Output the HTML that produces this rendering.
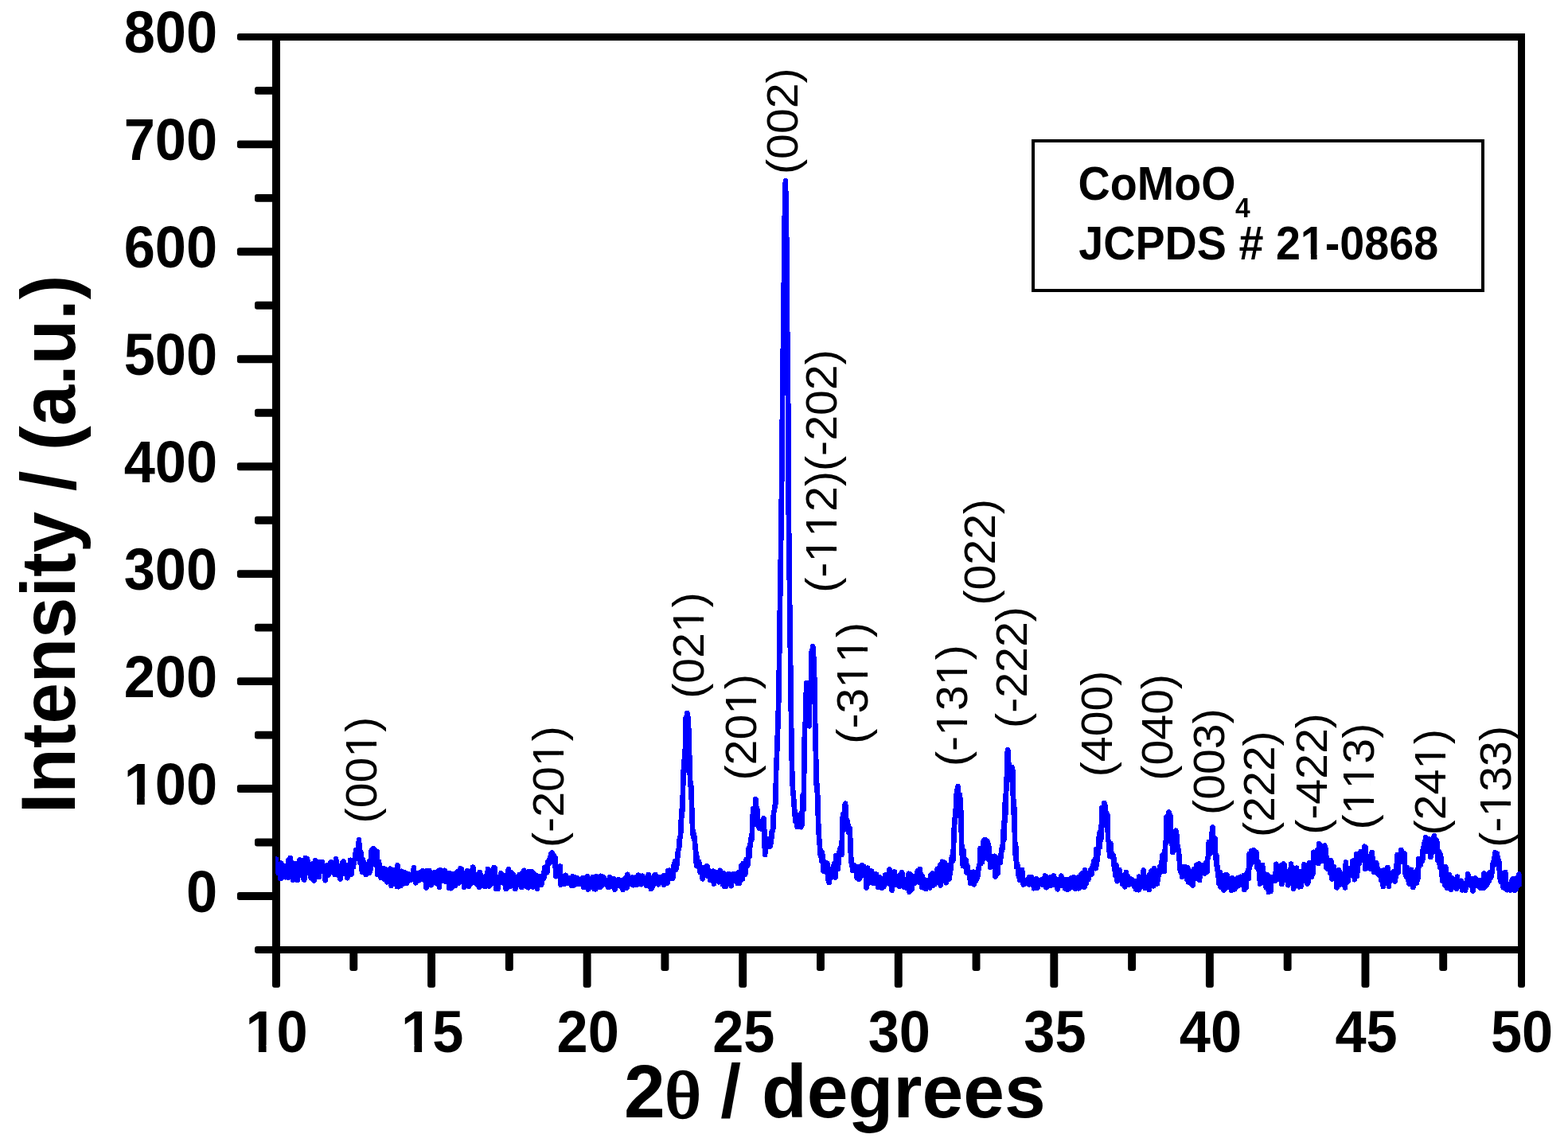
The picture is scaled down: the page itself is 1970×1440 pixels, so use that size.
<!DOCTYPE html>
<html lang="en"><head><meta charset="utf-8"><title>XRD pattern of CoMoO4</title>
<style>
html,body{margin:0;padding:0;background:#fff;overflow:hidden;}
body{width:1970px;height:1440px;overflow:hidden;}
svg{display:block;}
text{font-family:"Liberation Sans",Arial,Helvetica,sans-serif;fill:#000;font-kerning:none;font-feature-settings:"kern" 0,"liga" 0;white-space:pre;}
.tick{font-size:70.4px;font-weight:bold;}
.xt{font-size:93px;font-weight:bold;}
.yt{font-size:92.3px;font-weight:bold;}
.th{font-family:"Liberation Serif","DejaVu Serif",serif;font-size:82.5px;font-weight:normal;stroke:#000;stroke-width:2.4px;stroke-linejoin:round;}
.pk{font-size:56px;}
.leg{font-size:55.7px;font-weight:bold;}
.sub{font-size:33.5px;font-weight:bold;}
.ax{stroke:#000;fill:none;}
</style></head><body>
<svg width="1970" height="1440" viewBox="0 0 1970 1440">
<rect x="0" y="0" width="1970" height="1440" fill="#fff"/>
<g>
<g transform="translate(472.50 967.60) rotate(-90) scale(1.0230 1.0000)"><text class="pk" text-anchor="middle">(001)</text><g fill="#fff"><rect x="18.20" y="-5.28" width="11.46" height="6.92"/><rect x="34.60" y="-5.28" width="11.02" height="6.92"/></g></g>
<g transform="translate(707.70 988.60) rotate(-90) scale(1.0230 1.0000)"><text class="pk" text-anchor="middle">(-201)</text><g fill="#fff"><rect x="27.52" y="-5.28" width="11.46" height="6.92"/><rect x="43.93" y="-5.28" width="11.02" height="6.92"/></g></g>
<g transform="translate(883.70 811.00) rotate(-90) scale(1.0230 1.0000)"><text class="pk" text-anchor="middle">(021)</text><g fill="#fff"><rect x="18.20" y="-5.28" width="11.46" height="6.92"/><rect x="34.60" y="-5.28" width="11.02" height="6.92"/></g></g>
<g transform="translate(950.10 913.70) rotate(-90) scale(1.0230 1.0000)"><text class="pk" text-anchor="middle">(201)</text><g fill="#fff"><rect x="18.20" y="-5.28" width="11.46" height="6.92"/><rect x="34.60" y="-5.28" width="11.02" height="6.92"/></g></g>
<text class="pk" text-anchor="middle" transform="translate(1002.30 152.20) rotate(-90) scale(1.0230 1.0000)">(002)</text>
<g transform="translate(1051.30 592.00) rotate(-90) scale(1.0230 1.0000)"><text class="pk" text-anchor="middle">(-112)(-202)</text><g fill="#fff"><rect x="-109.46" y="-5.28" width="11.46" height="6.92"/><rect x="-93.05" y="-5.28" width="11.02" height="6.92"/><rect x="-78.31" y="-5.28" width="11.46" height="6.92"/><rect x="-61.91" y="-5.28" width="11.02" height="6.92"/></g></g>
<g transform="translate(1089.60 858.30) rotate(-90) scale(1.0230 1.0000)"><text class="pk" text-anchor="middle">(-311)</text><g fill="#fff"><rect x="-3.62" y="-5.28" width="11.46" height="6.92"/><rect x="12.78" y="-5.28" width="11.02" height="6.92"/><rect x="27.52" y="-5.28" width="11.46" height="6.92"/><rect x="43.93" y="-5.28" width="11.02" height="6.92"/></g></g>
<g transform="translate(1215.20 886.60) rotate(-90) scale(1.0230 1.0000)"><text class="pk" text-anchor="middle">(-131)</text><g fill="#fff"><rect x="-34.77" y="-5.28" width="11.46" height="6.92"/><rect x="-18.36" y="-5.28" width="11.02" height="6.92"/><rect x="27.52" y="-5.28" width="11.46" height="6.92"/><rect x="43.93" y="-5.28" width="11.02" height="6.92"/></g></g>
<text class="pk" text-anchor="middle" transform="translate(1249.60 693.75) rotate(-90) scale(1.0230 1.0000)">(022)</text>
<text class="pk" text-anchor="middle" transform="translate(1290.20 838.55) rotate(-90) scale(1.0230 1.0000)">(-222)</text>
<text class="pk" text-anchor="middle" transform="translate(1397.30 909.40) rotate(-90) scale(1.0230 1.0000)">(400)</text>
<text class="pk" text-anchor="middle" transform="translate(1473.30 913.80) rotate(-90) scale(1.0230 1.0000)">(040)</text>
<text class="pk" text-anchor="middle" transform="translate(1537.50 957.10) rotate(-90) scale(1.0230 1.0000)">(003)</text>
<text class="pk" text-anchor="middle" transform="translate(1601.10 985.15) rotate(-90) scale(1.0230 1.0000)">(222)</text>
<text class="pk" text-anchor="middle" transform="translate(1667.10 972.50) rotate(-90) scale(1.0230 1.0000)">(-422)</text>
<g transform="translate(1726.40 975.60) rotate(-90) scale(1.0230 1.0000)"><text class="pk" text-anchor="middle">(113)</text><g fill="#fff"><rect x="-44.09" y="-5.28" width="11.46" height="6.92"/><rect x="-27.69" y="-5.28" width="11.02" height="6.92"/><rect x="-12.95" y="-5.28" width="11.46" height="6.92"/><rect x="3.46" y="-5.28" width="11.02" height="6.92"/></g></g>
<g transform="translate(1815.50 982.70) rotate(-90) scale(1.0230 1.0000)"><text class="pk" text-anchor="middle">(241)</text><g fill="#fff"><rect x="18.20" y="-5.28" width="11.46" height="6.92"/><rect x="34.60" y="-5.28" width="11.02" height="6.92"/></g></g>
<g transform="translate(1898.30 988.35) rotate(-90) scale(1.0230 1.0000)"><text class="pk" text-anchor="middle">(-133)</text><g fill="#fff"><rect x="-34.77" y="-5.28" width="11.46" height="6.92"/><rect x="-18.36" y="-5.28" width="11.02" height="6.92"/></g></g>
</g>
<rect x="1297.8" y="176.6" width="565" height="188.5" fill="none" stroke="#000" stroke-width="4" shape-rendering="crispEdges"/>
<text class="leg" text-anchor="start" transform="translate(1354.60 250.80) scale(1.0000 1.0610)">CoMoO<tspan class="sub" x="197.4" dy="20.83">4</tspan></text>
<g transform="translate(1355.30 326.10) scale(1.0000 1.0610)"><text class="leg" text-anchor="start">JCPDS # 21-0868</text><g fill="#fff"><rect x="280.51" y="-6.77" width="11.12" height="8.40"/><rect x="299.28" y="-6.77" width="10.42" height="8.40"/></g></g>
<g fill="#000" stroke="none">
<rect x="297.90" y="1121.07" width="52.10" height="9.90" rx="3"/>
<rect x="297.90" y="986.12" width="52.10" height="9.90" rx="3"/>
<rect x="297.90" y="851.17" width="52.10" height="9.90" rx="3"/>
<rect x="297.90" y="716.21" width="52.10" height="9.90" rx="3"/>
<rect x="297.90" y="581.26" width="52.10" height="9.90" rx="3"/>
<rect x="297.90" y="446.31" width="52.10" height="9.90" rx="3"/>
<rect x="297.90" y="311.36" width="52.10" height="9.90" rx="3"/>
<rect x="297.90" y="176.40" width="52.10" height="9.90" rx="3"/>
<rect x="297.90" y="42.00" width="52.10" height="8.85" rx="3"/>
<rect x="320.00" y="1053.60" width="30.00" height="9.90" rx="3"/>
<rect x="320.00" y="918.64" width="30.00" height="9.90" rx="3"/>
<rect x="320.00" y="783.69" width="30.00" height="9.90" rx="3"/>
<rect x="320.00" y="648.74" width="30.00" height="9.90" rx="3"/>
<rect x="320.00" y="513.79" width="30.00" height="9.90" rx="3"/>
<rect x="320.00" y="378.83" width="30.00" height="9.90" rx="3"/>
<rect x="320.00" y="243.88" width="30.00" height="9.90" rx="3"/>
<rect x="320.00" y="108.93" width="30.00" height="9.90" rx="3"/>
<rect x="320.00" y="1189.05" width="30.00" height="8.85" rx="3"/>
<rect x="537.11" y="1192.00" width="9.90" height="49.00" rx="3"/>
<rect x="732.67" y="1192.00" width="9.90" height="49.00" rx="3"/>
<rect x="928.24" y="1192.00" width="9.90" height="49.00" rx="3"/>
<rect x="1123.80" y="1192.00" width="9.90" height="49.00" rx="3"/>
<rect x="1319.36" y="1192.00" width="9.90" height="49.00" rx="3"/>
<rect x="1514.92" y="1192.00" width="9.90" height="49.00" rx="3"/>
<rect x="1710.49" y="1192.00" width="9.90" height="49.00" rx="3"/>
<rect x="342.00" y="1192.00" width="10.00" height="49.00" rx="3"/>
<rect x="1907.00" y="1192.00" width="9.00" height="49.00" rx="3"/>
<rect x="439.33" y="1192.00" width="9.90" height="28.00" rx="3"/>
<rect x="634.89" y="1192.00" width="9.90" height="28.00" rx="3"/>
<rect x="830.46" y="1192.00" width="9.90" height="28.00" rx="3"/>
<rect x="1026.02" y="1192.00" width="9.90" height="28.00" rx="3"/>
<rect x="1221.58" y="1192.00" width="9.90" height="28.00" rx="3"/>
<rect x="1417.14" y="1192.00" width="9.90" height="28.00" rx="3"/>
<rect x="1612.71" y="1192.00" width="9.90" height="28.00" rx="3"/>
<rect x="1808.27" y="1192.00" width="9.90" height="28.00" rx="3"/>
</g>
<g fill="#000" stroke="none" shape-rendering="crispEdges">
<rect x="342.00" y="42.00" width="1574.00" height="8.85"/>
<rect x="342.00" y="1189.05" width="1574.00" height="8.85"/>
<rect x="342.00" y="42.00" width="10.00" height="1158.00"/>
<rect x="1907.00" y="42.00" width="9.00" height="1158.00"/>
</g>
<g>
<text class="tick" text-anchor="end" transform="translate(273.10 1145.52) scale(1.0000 1.0647)">0</text>
<g transform="translate(273.10 1010.57) scale(1.0000 1.0647)"><text class="tick" text-anchor="end">100</text><g fill="#fff"><rect x="-115.09" y="-8.56" width="14.06" height="10.62"/><rect x="-91.37" y="-8.56" width="13.17" height="10.62"/></g></g>
<text class="tick" text-anchor="end" transform="translate(273.10 875.62) scale(1.0000 1.0647)">200</text>
<text class="tick" text-anchor="end" transform="translate(273.10 740.66) scale(1.0000 1.0647)">300</text>
<text class="tick" text-anchor="end" transform="translate(273.10 605.71) scale(1.0000 1.0647)">400</text>
<text class="tick" text-anchor="end" transform="translate(273.10 470.76) scale(1.0000 1.0647)">500</text>
<text class="tick" text-anchor="end" transform="translate(273.10 335.81) scale(1.0000 1.0647)">600</text>
<text class="tick" text-anchor="end" transform="translate(273.10 200.85) scale(1.0000 1.0647)">700</text>
<text class="tick" text-anchor="end" transform="translate(273.10 65.90) scale(1.0000 1.0647)">800</text>
<g transform="translate(347.60 1322.20) scale(1.0000 1.0647)"><text class="tick" text-anchor="middle">10</text><g fill="#fff"><rect x="-36.78" y="-8.56" width="14.06" height="10.62"/><rect x="-13.06" y="-8.56" width="13.17" height="10.62"/></g></g>
<g transform="translate(543.16 1322.20) scale(1.0000 1.0647)"><text class="tick" text-anchor="middle">15</text><g fill="#fff"><rect x="-36.78" y="-8.56" width="14.06" height="10.62"/><rect x="-13.06" y="-8.56" width="13.17" height="10.62"/></g></g>
<text class="tick" text-anchor="middle" transform="translate(738.73 1322.20) scale(1.0000 1.0647)">20</text>
<text class="tick" text-anchor="middle" transform="translate(934.29 1322.20) scale(1.0000 1.0647)">25</text>
<text class="tick" text-anchor="middle" transform="translate(1129.85 1322.20) scale(1.0000 1.0647)">30</text>
<text class="tick" text-anchor="middle" transform="translate(1325.41 1322.20) scale(1.0000 1.0647)">35</text>
<text class="tick" text-anchor="middle" transform="translate(1520.97 1322.20) scale(1.0000 1.0647)">40</text>
<text class="tick" text-anchor="middle" transform="translate(1716.54 1322.20) scale(1.0000 1.0647)">45</text>
<text class="tick" text-anchor="middle" transform="translate(1912.10 1322.20) scale(1.0000 1.0647)">50</text>
</g>
<text class="xt" text-anchor="start" transform="translate(783.90 1403.90) scale(1.0000 1.0120)">2<tspan class="th" x="51.3" textLength="45.33" lengthAdjust="spacingAndGlyphs">θ</tspan><tspan x="95.6"> / degrees</tspan></text>
<text class="yt" text-anchor="start" transform="translate(94.10 1022.30) rotate(-90) scale(1.0000 1.0350)">Intensity / (a.u.)</text>
<clipPath id="plotclip"><rect x="346.1" y="0" width="1565.6" height="1440"/></clipPath>
<polyline clip-path="url(#plotclip)" fill="none" stroke="#0000ff" stroke-width="6.7" stroke-linejoin="round" stroke-linecap="round" shape-rendering="crispEdges" points="347.0,1079.7 347.8,1094.9 348.6,1091.4 349.3,1088.8 350.1,1097.2 350.9,1091.7 351.7,1091.8 352.5,1104.1 353.3,1084.7 354.0,1087.6 354.8,1096.3 355.6,1093.1 356.4,1088.4 357.2,1093.8 358.0,1093.7 358.7,1102.2 359.5,1088.1 360.3,1091.2 361.1,1090.2 361.9,1102.8 362.6,1080.6 363.4,1091.1 364.2,1094.9 365.0,1078.0 365.8,1092.6 366.6,1102.5 367.3,1095.1 368.1,1105.7 368.9,1085.0 369.7,1095.3 370.5,1097.6 371.2,1084.9 372.0,1104.1 372.8,1088.7 373.6,1105.9 374.4,1097.2 375.2,1101.0 375.9,1082.3 376.7,1080.2 377.5,1095.0 378.3,1086.8 379.1,1094.0 379.9,1088.7 380.6,1098.0 381.4,1104.8 382.2,1105.5 383.0,1090.2 383.8,1078.1 384.5,1091.0 385.3,1096.6 386.1,1079.5 386.9,1091.3 387.7,1092.3 388.5,1091.3 389.2,1094.0 390.0,1095.3 390.8,1103.2 391.6,1089.6 392.4,1093.8 393.2,1084.8 393.9,1095.8 394.7,1106.6 395.5,1094.0 396.3,1081.4 397.1,1096.0 397.8,1099.6 398.6,1101.8 399.4,1100.8 400.2,1095.5 401.0,1101.7 401.8,1083.0 402.5,1095.5 403.3,1092.8 404.1,1083.5 404.9,1083.0 405.7,1095.1 406.5,1091.3 407.2,1088.5 408.0,1095.0 408.8,1106.2 409.6,1089.1 410.4,1087.5 411.1,1090.9 411.9,1100.3 412.7,1095.2 413.5,1098.0 414.3,1096.0 415.1,1084.8 415.8,1083.2 416.6,1089.3 417.4,1090.1 418.2,1089.3 419.0,1094.1 419.7,1094.6 420.5,1098.8 421.3,1094.5 422.1,1079.4 422.9,1088.0 423.7,1096.5 424.4,1097.5 425.2,1100.3 426.0,1091.6 426.8,1091.5 427.6,1104.5 428.4,1091.0 429.1,1098.5 429.9,1084.4 430.7,1093.4 431.5,1082.5 432.3,1097.8 433.0,1096.6 433.8,1092.5 434.6,1087.1 435.4,1090.5 436.2,1103.2 437.0,1093.1 437.7,1094.1 438.5,1097.1 439.3,1098.4 440.1,1080.8 440.9,1095.8 441.7,1098.5 442.4,1086.7 443.2,1089.2 444.0,1089.2 444.8,1080.5 445.6,1080.0 446.3,1077.6 447.1,1068.3 447.9,1069.5 448.7,1073.1 449.5,1067.1 450.3,1066.5 451.0,1055.2 451.8,1073.8 452.6,1084.2 453.4,1071.0 454.2,1087.7 455.0,1095.9 455.7,1080.3 456.5,1091.4 457.3,1083.7 458.1,1092.7 458.9,1097.9 459.6,1099.0 460.4,1093.2 461.2,1090.8 462.0,1094.1 462.8,1088.5 463.6,1096.8 464.3,1082.3 465.1,1095.0 465.9,1079.3 466.7,1069.3 467.5,1067.7 468.2,1067.6 469.0,1066.4 469.8,1067.6 470.6,1067.7 471.4,1068.4 472.2,1087.3 472.9,1078.9 473.7,1070.0 474.5,1099.0 475.3,1085.7 476.1,1082.8 476.9,1097.8 477.6,1089.7 478.4,1102.6 479.2,1101.5 480.0,1102.2 480.8,1095.7 481.5,1098.2 482.3,1091.3 483.1,1104.8 483.9,1099.5 484.7,1092.3 485.5,1095.3 486.2,1108.3 487.0,1094.9 487.8,1102.9 488.6,1097.2 489.4,1097.9 490.2,1091.8 490.9,1099.4 491.7,1112.9 492.5,1109.7 493.3,1095.6 494.1,1102.4 494.8,1093.0 495.6,1099.0 496.4,1106.0 497.2,1093.7 498.0,1106.5 498.8,1114.0 499.5,1087.3 500.3,1114.2 501.1,1097.1 501.9,1095.1 502.7,1100.6 503.4,1113.0 504.2,1094.8 505.0,1111.4 505.8,1110.8 506.6,1104.2 507.4,1096.5 508.1,1099.8 508.9,1096.3 509.7,1104.8 510.5,1103.0 511.3,1109.6 512.1,1104.1 512.8,1097.9 513.6,1104.0 514.4,1098.8 515.2,1105.9 516.0,1106.0 516.7,1101.8 517.5,1103.4 518.3,1098.1 519.1,1100.9 519.9,1090.4 520.7,1103.6 521.4,1103.7 522.2,1109.2 523.0,1102.1 523.8,1097.6 524.6,1107.3 525.4,1102.6 526.1,1097.4 526.9,1103.2 527.7,1105.8 528.5,1095.8 529.3,1101.7 530.0,1099.7 530.8,1094.5 531.6,1094.7 532.4,1104.8 533.2,1106.0 534.0,1100.6 534.7,1103.4 535.5,1115.4 536.3,1094.0 537.1,1102.5 537.9,1097.6 538.7,1110.5 539.4,1094.0 540.2,1106.6 541.0,1103.4 541.8,1112.2 542.6,1103.9 543.3,1104.3 544.1,1104.0 544.9,1099.8 545.7,1102.4 546.5,1096.2 547.3,1106.0 548.0,1109.6 548.8,1103.0 549.6,1098.7 550.4,1094.5 551.2,1097.5 551.9,1114.9 552.7,1100.4 553.5,1093.2 554.3,1102.6 555.1,1106.5 555.9,1101.0 556.6,1106.5 557.4,1098.8 558.2,1103.2 559.0,1093.8 559.8,1099.8 560.6,1108.1 561.3,1099.1 562.1,1096.9 562.9,1107.1 563.7,1106.1 564.5,1116.1 565.2,1097.2 566.0,1107.3 566.8,1116.2 567.6,1115.3 568.4,1104.9 569.2,1098.3 569.9,1104.0 570.7,1100.3 571.5,1110.9 572.3,1112.5 573.1,1097.5 573.9,1100.2 574.6,1103.8 575.4,1094.9 576.2,1110.0 577.0,1106.5 577.8,1096.7 578.5,1091.3 579.3,1103.6 580.1,1092.4 580.9,1107.8 581.7,1101.5 582.5,1104.9 583.2,1114.5 584.0,1102.0 584.8,1097.5 585.6,1104.8 586.4,1104.3 587.2,1094.4 587.9,1112.2 588.7,1113.9 589.5,1108.2 590.3,1111.9 591.1,1094.7 591.8,1101.7 592.6,1109.7 593.4,1108.0 594.2,1089.7 595.0,1108.0 595.8,1109.0 596.5,1101.8 597.3,1099.6 598.1,1102.4 598.9,1110.0 599.7,1111.7 600.4,1099.9 601.2,1104.3 602.0,1115.0 602.8,1096.0 603.6,1098.7 604.4,1105.6 605.1,1105.7 605.9,1102.4 606.7,1108.6 607.5,1113.1 608.3,1101.8 609.1,1113.7 609.8,1101.3 610.6,1113.7 611.4,1104.7 612.2,1104.9 613.0,1092.0 613.7,1111.2 614.5,1113.6 615.3,1108.4 616.1,1111.6 616.9,1108.0 617.7,1101.2 618.4,1098.8 619.2,1092.8 620.0,1109.0 620.8,1089.9 621.6,1090.7 622.4,1105.4 623.1,1116.9 623.9,1104.6 624.7,1103.6 625.5,1116.9 626.3,1103.6 627.0,1105.5 627.8,1109.4 628.6,1099.9 629.4,1097.3 630.2,1107.4 631.0,1102.6 631.7,1108.6 632.5,1109.5 633.3,1103.6 634.1,1100.6 634.9,1108.0 635.7,1117.0 636.4,1100.2 637.2,1115.0 638.0,1103.4 638.8,1092.2 639.6,1104.3 640.3,1112.2 641.1,1114.1 641.9,1096.3 642.7,1104.3 643.5,1100.6 644.3,1098.0 645.0,1104.5 645.8,1106.3 646.6,1110.6 647.4,1117.1 648.2,1114.5 648.9,1104.7 649.7,1105.4 650.5,1101.5 651.3,1105.1 652.1,1103.2 652.9,1098.9 653.6,1110.2 654.4,1106.2 655.2,1115.1 656.0,1097.6 656.8,1104.0 657.6,1100.9 658.3,1093.8 659.1,1096.9 659.9,1104.6 660.7,1098.9 661.5,1113.9 662.2,1101.3 663.0,1103.3 663.8,1115.3 664.6,1095.2 665.4,1109.1 666.2,1099.6 666.9,1107.1 667.7,1097.5 668.5,1095.3 669.3,1109.9 670.1,1114.6 670.9,1105.0 671.6,1098.2 672.4,1106.5 673.2,1108.1 674.0,1100.4 674.8,1116.8 675.5,1108.0 676.3,1112.9 677.1,1100.9 677.9,1107.8 678.7,1110.2 679.5,1104.3 680.2,1111.8 681.0,1100.7 681.8,1104.8 682.6,1101.7 683.4,1103.2 684.1,1090.1 684.9,1096.2 685.7,1089.8 686.5,1088.3 687.3,1096.2 688.1,1083.4 688.8,1082.8 689.6,1080.9 690.4,1084.7 691.2,1083.2 692.0,1072.9 692.8,1072.7 693.5,1071.5 694.3,1073.6 695.1,1082.1 695.9,1074.5 696.7,1079.4 697.4,1077.0 698.2,1101.2 699.0,1093.8 699.8,1098.5 700.6,1094.4 701.4,1100.1 702.1,1101.1 702.9,1094.3 703.7,1088.4 704.5,1111.7 705.3,1103.3 706.1,1100.6 706.8,1103.0 707.6,1105.4 708.4,1111.1 709.2,1109.3 710.0,1101.2 710.7,1099.9 711.5,1105.0 712.3,1109.8 713.1,1105.5 713.9,1107.3 714.7,1103.7 715.4,1105.9 716.2,1109.6 717.0,1105.9 717.8,1112.6 718.6,1103.1 719.4,1101.4 720.1,1112.8 720.9,1105.3 721.7,1112.1 722.5,1102.3 723.3,1103.2 724.0,1108.7 724.8,1102.9 725.6,1109.8 726.4,1110.8 727.2,1110.6 728.0,1108.6 728.7,1109.5 729.5,1107.3 730.3,1111.0 731.1,1104.5 731.9,1103.3 732.6,1110.6 733.4,1115.1 734.2,1104.9 735.0,1103.0 735.8,1109.2 736.6,1114.6 737.3,1107.3 738.1,1101.3 738.9,1117.5 739.7,1106.3 740.5,1110.1 741.3,1112.7 742.0,1106.2 742.8,1114.8 743.6,1107.2 744.4,1102.4 745.2,1107.8 745.9,1112.8 746.7,1117.1 747.5,1114.7 748.3,1117.4 749.1,1101.1 749.9,1109.9 750.6,1113.6 751.4,1114.8 752.2,1113.8 753.0,1110.3 753.8,1114.8 754.6,1100.8 755.3,1112.3 756.1,1112.4 756.9,1107.3 757.7,1101.8 758.5,1102.5 759.2,1111.1 760.0,1107.5 760.8,1108.0 761.6,1106.2 762.4,1107.5 763.2,1113.2 763.9,1114.7 764.7,1107.9 765.5,1114.4 766.3,1102.3 767.1,1108.6 767.9,1113.7 768.6,1110.3 769.4,1111.2 770.2,1109.4 771.0,1104.3 771.8,1115.7 772.5,1117.7 773.3,1107.2 774.1,1109.6 774.9,1108.0 775.7,1106.7 776.5,1109.7 777.2,1105.0 778.0,1113.0 778.8,1108.5 779.6,1112.8 780.4,1114.2 781.1,1105.9 781.9,1106.1 782.7,1117.8 783.5,1114.1 784.3,1107.4 785.1,1103.7 785.8,1112.0 786.6,1109.7 787.4,1115.5 788.2,1098.8 789.0,1106.5 789.8,1104.5 790.5,1105.6 791.3,1104.3 792.1,1105.9 792.9,1110.4 793.7,1105.2 794.4,1108.4 795.2,1102.5 796.0,1112.2 796.8,1111.3 797.6,1105.5 798.4,1102.6 799.1,1108.0 799.9,1112.1 800.7,1109.2 801.5,1111.0 802.3,1099.5 803.1,1104.3 803.8,1102.5 804.6,1107.1 805.4,1111.2 806.2,1102.9 807.0,1100.6 807.7,1105.7 808.5,1108.6 809.3,1103.2 810.1,1110.2 810.9,1104.7 811.7,1111.8 812.4,1113.0 813.2,1105.6 814.0,1106.6 814.8,1099.0 815.6,1109.5 816.3,1108.0 817.1,1113.6 817.9,1117.1 818.7,1116.6 819.5,1105.5 820.3,1113.5 821.0,1102.1 821.8,1100.5 822.6,1108.8 823.4,1099.1 824.2,1106.0 825.0,1101.4 825.7,1108.0 826.5,1102.0 827.3,1111.3 828.1,1103.3 828.9,1108.6 829.6,1106.7 830.4,1102.7 831.2,1104.8 832.0,1105.8 832.8,1101.4 833.6,1100.7 834.3,1111.8 835.1,1101.4 835.9,1100.4 836.7,1107.5 837.5,1101.1 838.3,1109.8 839.0,1094.3 839.8,1102.9 840.6,1101.4 841.4,1093.6 842.2,1100.3 842.9,1095.2 843.7,1103.8 844.5,1100.0 845.3,1103.8 846.1,1095.2 846.9,1085.7 847.6,1089.0 848.4,1082.4 849.2,1092.8 850.0,1089.1 850.8,1082.9 851.6,1071.2 852.3,1068.1 853.1,1065.5 853.9,1053.5 854.7,1052.5 855.5,1042.3 856.2,1018.1 857.0,1025.2 857.8,1002.4 858.6,968.9 859.4,969.6 860.2,943.4 860.9,944.4 861.7,901.8 862.5,940.2 863.3,896.1 864.1,927.5 864.8,901.8 865.6,930.6 866.4,956.2 867.2,987.0 868.0,983.6 868.8,1002.7 869.5,1025.7 870.3,1045.8 871.1,1051.8 871.9,1048.3 872.7,1055.1 873.5,1063.6 874.2,1070.8 875.0,1087.5 875.8,1077.5 876.6,1088.4 877.4,1083.4 878.1,1082.8 878.9,1092.2 879.7,1095.9 880.5,1090.7 881.3,1090.5 882.1,1096.1 882.8,1104.3 883.6,1093.2 884.4,1090.0 885.2,1089.9 886.0,1097.2 886.8,1097.0 887.5,1095.9 888.3,1088.2 889.1,1101.0 889.9,1095.1 890.7,1100.7 891.4,1094.5 892.2,1105.9 893.0,1095.7 893.8,1101.5 894.6,1100.8 895.4,1097.4 896.1,1094.8 896.9,1110.5 897.7,1096.8 898.5,1099.6 899.3,1104.3 900.1,1095.9 900.8,1102.4 901.6,1097.1 902.4,1106.8 903.2,1108.3 904.0,1098.0 904.7,1093.8 905.5,1101.2 906.3,1100.0 907.1,1106.9 907.9,1111.1 908.7,1105.7 909.4,1097.3 910.2,1113.9 911.0,1107.2 911.8,1114.1 912.6,1104.2 913.3,1100.4 914.1,1110.8 914.9,1106.6 915.7,1098.0 916.5,1104.8 917.3,1110.3 918.0,1110.5 918.8,1113.2 919.6,1099.9 920.4,1107.2 921.2,1098.1 922.0,1098.8 922.7,1106.2 923.5,1105.3 924.3,1098.6 925.1,1101.4 925.9,1100.5 926.6,1109.8 927.4,1096.7 928.2,1105.3 929.0,1110.1 929.8,1103.1 930.6,1097.2 931.3,1087.7 932.1,1100.1 932.9,1104.5 933.7,1084.9 934.5,1094.5 935.3,1095.6 936.0,1099.0 936.8,1097.0 937.6,1080.1 938.4,1088.4 939.2,1087.5 939.9,1084.1 940.7,1065.8 941.5,1076.6 942.3,1062.1 943.1,1058.8 943.9,1052.1 944.6,1054.6 945.4,1033.0 946.2,1015.9 947.0,1024.9 947.8,1027.9 948.6,1027.8 949.3,1004.3 950.1,1015.2 950.9,1015.5 951.7,1017.9 952.5,1037.4 953.2,1036.5 954.0,1041.0 954.8,1035.1 955.6,1034.4 956.4,1033.8 957.2,1034.5 957.9,1042.2 958.7,1031.7 959.5,1028.2 960.3,1045.4 961.1,1074.1 961.8,1062.6 962.6,1062.3 963.4,1061.7 964.2,1056.8 965.0,1061.8 965.8,1054.7 966.5,1059.8 967.3,1063.9 968.1,1060.9 968.9,1059.0 969.7,1044.7 970.5,1044.5 971.2,1041.6 972.0,1021.2 972.8,1018.4 973.6,1012.2 974.4,1009.9 975.1,969.9 975.9,951.2 976.7,928.7 977.5,906.2 978.3,878.0 979.1,827.3 979.8,771.2 980.6,723.0 981.4,661.8 982.2,601.8 983.0,511.7 983.8,442.3 984.5,401.2 985.3,302.0 986.1,258.0 986.9,227.2 987.7,264.9 988.4,313.9 989.2,422.8 990.0,475.4 990.8,641.6 991.6,702.8 992.4,783.2 993.1,829.9 993.9,897.0 994.7,949.6 995.5,982.6 996.3,994.7 997.0,1001.3 997.8,1013.1 998.6,1023.1 999.4,1032.3 1000.2,1031.5 1001.0,1023.8 1001.7,1039.0 1002.5,1033.5 1003.3,1026.3 1004.1,1037.1 1004.9,1039.0 1005.7,1038.5 1006.4,1039.0 1007.2,1037.7 1008.0,1016.0 1008.8,998.5 1009.6,1017.0 1010.3,962.1 1011.1,909.8 1011.9,910.2 1012.7,873.5 1013.5,858.1 1014.3,877.2 1015.0,866.9 1015.8,880.6 1016.6,912.3 1017.4,874.1 1018.2,873.9 1019.0,867.6 1019.7,818.6 1020.5,817.9 1021.3,812.1 1022.1,823.7 1022.9,845.8 1023.6,858.8 1024.4,928.9 1025.2,955.1 1026.0,993.1 1026.8,985.8 1027.6,1014.9 1028.3,1038.9 1029.1,1053.1 1029.9,1062.2 1030.7,1073.7 1031.5,1075.0 1032.3,1081.8 1033.0,1071.0 1033.8,1083.0 1034.6,1094.6 1035.4,1095.0 1036.2,1083.5 1036.9,1090.3 1037.7,1092.4 1038.5,1090.2 1039.3,1084.7 1040.1,1104.9 1040.9,1101.9 1041.6,1109.1 1042.4,1093.5 1043.2,1099.7 1044.0,1101.7 1044.8,1102.2 1045.5,1091.5 1046.3,1097.1 1047.1,1099.4 1047.9,1085.6 1048.7,1101.8 1049.5,1102.5 1050.2,1075.5 1051.0,1093.0 1051.8,1092.6 1052.6,1092.0 1053.4,1084.5 1054.2,1073.2 1054.9,1069.2 1055.7,1066.1 1056.5,1068.2 1057.3,1074.0 1058.1,1048.4 1058.8,1026.3 1059.6,1022.5 1060.4,1029.2 1061.2,1013.6 1062.0,1009.8 1062.8,1018.6 1063.5,1036.6 1064.3,1031.3 1065.1,1033.8 1065.9,1045.8 1066.7,1044.0 1067.5,1040.5 1068.2,1053.6 1069.0,1075.5 1069.8,1084.3 1070.6,1087.6 1071.4,1093.7 1072.1,1087.8 1072.9,1087.0 1073.7,1091.0 1074.5,1092.5 1075.3,1094.1 1076.1,1097.5 1076.8,1103.0 1077.6,1089.2 1078.4,1089.7 1079.2,1104.8 1080.0,1104.3 1080.8,1101.0 1081.5,1094.9 1082.3,1088.4 1083.1,1087.2 1083.9,1088.4 1084.7,1088.5 1085.4,1088.6 1086.2,1092.9 1087.0,1096.8 1087.8,1102.5 1088.6,1115.7 1089.4,1104.4 1090.1,1090.8 1090.9,1108.4 1091.7,1109.4 1092.5,1097.7 1093.3,1104.7 1094.0,1109.0 1094.8,1094.5 1095.6,1101.3 1096.4,1100.5 1097.2,1110.1 1098.0,1102.6 1098.7,1103.6 1099.5,1100.8 1100.3,1098.3 1101.1,1098.5 1101.9,1105.4 1102.7,1101.8 1103.4,1114.9 1104.2,1102.2 1105.0,1102.0 1105.8,1109.7 1106.6,1112.5 1107.3,1107.4 1108.1,1115.7 1108.9,1104.7 1109.7,1105.1 1110.5,1113.9 1111.3,1106.9 1112.0,1099.7 1112.8,1099.7 1113.6,1100.1 1114.4,1108.3 1115.2,1109.7 1116.0,1110.1 1116.7,1103.1 1117.5,1092.5 1118.3,1097.4 1119.1,1096.1 1119.9,1097.8 1120.6,1118.7 1121.4,1108.8 1122.2,1110.4 1123.0,1098.5 1123.8,1095.4 1124.6,1112.1 1125.3,1107.1 1126.1,1103.4 1126.9,1110.8 1127.7,1111.8 1128.5,1112.2 1129.2,1101.1 1130.0,1113.8 1130.8,1099.3 1131.6,1106.8 1132.4,1102.1 1133.2,1096.4 1133.9,1112.1 1134.7,1113.1 1135.5,1104.3 1136.3,1114.6 1137.1,1112.5 1137.9,1108.1 1138.6,1106.2 1139.4,1116.1 1140.2,1110.0 1141.0,1103.2 1141.8,1097.8 1142.5,1120.7 1143.3,1098.1 1144.1,1101.0 1144.9,1114.9 1145.7,1117.6 1146.5,1104.3 1147.2,1110.2 1148.0,1106.2 1148.8,1101.1 1149.6,1109.8 1150.4,1106.0 1151.2,1103.7 1151.9,1100.8 1152.7,1094.6 1153.5,1095.0 1154.3,1105.3 1155.1,1108.6 1155.8,1091.9 1156.6,1102.3 1157.4,1103.8 1158.2,1114.6 1159.0,1101.2 1159.8,1112.2 1160.5,1109.8 1161.3,1116.0 1162.1,1110.1 1162.9,1105.8 1163.7,1116.9 1164.5,1112.5 1165.2,1106.5 1166.0,1114.9 1166.8,1114.7 1167.6,1111.5 1168.4,1115.5 1169.1,1100.5 1169.9,1112.0 1170.7,1098.8 1171.5,1097.3 1172.3,1112.7 1173.1,1103.1 1173.8,1106.6 1174.6,1111.1 1175.4,1104.6 1176.2,1103.3 1177.0,1095.4 1177.7,1092.2 1178.5,1108.2 1179.3,1102.1 1180.1,1094.0 1180.9,1088.1 1181.7,1112.4 1182.4,1086.0 1183.2,1097.2 1184.0,1082.8 1184.8,1098.5 1185.6,1101.5 1186.4,1093.9 1187.1,1084.3 1187.9,1093.4 1188.7,1109.2 1189.5,1087.0 1190.3,1105.7 1191.0,1099.6 1191.8,1100.2 1192.6,1104.7 1193.4,1097.9 1194.2,1093.3 1195.0,1087.0 1195.7,1077.9 1196.5,1075.8 1197.3,1081.6 1198.1,1060.9 1198.9,1039.1 1199.7,1028.5 1200.4,1026.6 1201.2,1008.7 1202.0,994.5 1202.8,992.2 1203.6,988.1 1204.3,1003.9 1205.1,1010.6 1205.9,998.7 1206.7,1010.3 1207.5,1023.3 1208.3,1072.8 1209.0,1063.5 1209.8,1087.9 1210.6,1068.5 1211.4,1080.3 1212.2,1084.7 1213.0,1089.9 1213.7,1080.9 1214.5,1096.4 1215.3,1087.9 1216.1,1093.3 1216.9,1096.2 1217.6,1096.5 1218.4,1100.0 1219.2,1109.5 1220.0,1096.8 1220.8,1097.2 1221.6,1103.6 1222.3,1097.3 1223.1,1095.9 1223.9,1111.3 1224.7,1102.6 1225.5,1104.1 1226.2,1106.6 1227.0,1096.4 1227.8,1103.7 1228.6,1098.9 1229.4,1091.4 1230.2,1087.9 1230.9,1085.0 1231.7,1066.2 1232.5,1084.8 1233.3,1073.9 1234.1,1083.3 1234.9,1063.3 1235.6,1056.5 1236.4,1056.4 1237.2,1066.6 1238.0,1055.0 1238.8,1056.3 1239.5,1064.2 1240.3,1057.1 1241.1,1079.1 1241.9,1061.0 1242.7,1068.0 1243.5,1076.3 1244.2,1089.6 1245.0,1086.3 1245.8,1085.3 1246.6,1085.4 1247.4,1088.7 1248.2,1089.6 1248.9,1086.0 1249.7,1075.8 1250.5,1101.4 1251.3,1096.4 1252.1,1097.1 1252.8,1089.4 1253.6,1097.4 1254.4,1077.8 1255.2,1080.6 1256.0,1082.2 1256.8,1084.0 1257.5,1074.0 1258.3,1069.9 1259.1,1063.1 1259.9,1066.2 1260.7,1043.5 1261.5,1054.4 1262.2,1010.0 1263.0,1031.2 1263.8,997.8 1264.6,989.5 1265.4,948.4 1266.1,942.1 1266.9,946.7 1267.7,980.0 1268.5,970.5 1269.3,969.8 1270.1,969.6 1270.8,968.5 1271.6,964.1 1272.4,968.5 1273.2,1021.8 1274.0,1006.4 1274.7,1038.5 1275.5,1073.1 1276.3,1063.9 1277.1,1089.3 1277.9,1084.9 1278.7,1089.4 1279.4,1098.9 1280.2,1093.0 1281.0,1105.7 1281.8,1099.7 1282.6,1105.4 1283.4,1104.3 1284.1,1093.0 1284.9,1104.1 1285.7,1111.4 1286.5,1106.5 1287.3,1110.5 1288.0,1106.5 1288.8,1106.1 1289.6,1106.8 1290.4,1107.0 1291.2,1110.5 1292.0,1105.6 1292.7,1102.6 1293.5,1111.4 1294.3,1108.6 1295.1,1108.1 1295.9,1102.3 1296.7,1103.3 1297.4,1112.3 1298.2,1108.5 1299.0,1116.2 1299.8,1113.7 1300.6,1108.9 1301.3,1106.0 1302.1,1104.5 1302.9,1110.7 1303.7,1115.8 1304.5,1107.3 1305.3,1110.1 1306.0,1107.3 1306.8,1108.6 1307.6,1105.9 1308.4,1106.2 1309.2,1105.3 1309.9,1111.7 1310.7,1104.6 1311.5,1111.9 1312.3,1109.1 1313.1,1100.5 1313.9,1107.8 1314.6,1115.2 1315.4,1102.3 1316.2,1104.7 1317.0,1104.0 1317.8,1108.6 1318.6,1107.9 1319.3,1110.7 1320.1,1112.9 1320.9,1102.1 1321.7,1111.3 1322.5,1111.9 1323.2,1111.7 1324.0,1100.5 1324.8,1105.2 1325.6,1111.3 1326.4,1109.7 1327.2,1107.0 1327.9,1105.2 1328.7,1117.3 1329.5,1105.0 1330.3,1110.5 1331.1,1112.7 1331.9,1111.3 1332.6,1105.5 1333.4,1100.7 1334.2,1108.6 1335.0,1106.5 1335.8,1113.2 1336.5,1106.8 1337.3,1105.1 1338.1,1116.4 1338.9,1111.6 1339.7,1105.2 1340.5,1117.6 1341.2,1110.8 1342.0,1105.9 1342.8,1117.2 1343.6,1110.7 1344.4,1108.4 1345.2,1104.2 1345.9,1114.9 1346.7,1103.0 1347.5,1106.9 1348.3,1102.4 1349.1,1102.4 1349.8,1106.4 1350.6,1105.6 1351.4,1116.7 1352.2,1114.6 1353.0,1112.8 1353.8,1109.3 1354.5,1102.6 1355.3,1116.3 1356.1,1108.7 1356.9,1113.6 1357.7,1114.7 1358.4,1098.7 1359.2,1105.6 1360.0,1097.2 1360.8,1099.3 1361.6,1110.1 1362.4,1114.8 1363.1,1093.3 1363.9,1106.2 1364.7,1109.9 1365.5,1099.1 1366.3,1101.6 1367.1,1105.5 1367.8,1102.9 1368.6,1099.1 1369.4,1098.7 1370.2,1093.4 1371.0,1099.1 1371.7,1097.7 1372.5,1090.0 1373.3,1090.1 1374.1,1082.6 1374.9,1089.8 1375.7,1086.1 1376.4,1091.2 1377.2,1067.3 1378.0,1086.6 1378.8,1069.2 1379.6,1073.9 1380.4,1057.5 1381.1,1047.5 1381.9,1064.4 1382.7,1043.6 1383.5,1053.4 1384.3,1014.9 1385.0,1028.1 1385.8,1037.2 1386.6,1025.1 1387.4,1009.0 1388.2,1012.8 1389.0,1013.5 1389.7,1037.0 1390.5,1036.1 1391.3,1024.0 1392.1,1055.2 1392.9,1057.5 1393.7,1069.1 1394.4,1076.1 1395.2,1059.7 1396.0,1069.3 1396.8,1074.7 1397.6,1077.1 1398.3,1076.6 1399.1,1075.5 1399.9,1089.4 1400.7,1093.8 1401.5,1100.4 1402.3,1086.7 1403.0,1099.4 1403.8,1107.3 1404.6,1099.7 1405.4,1098.6 1406.2,1094.0 1406.9,1093.6 1407.7,1105.8 1408.5,1106.8 1409.3,1104.1 1410.1,1110.4 1410.9,1103.6 1411.6,1100.2 1412.4,1103.3 1413.2,1114.3 1414.0,1111.8 1414.8,1096.1 1415.6,1111.1 1416.3,1100.0 1417.1,1100.9 1417.9,1107.1 1418.7,1111.6 1419.5,1104.0 1420.2,1111.1 1421.0,1106.7 1421.8,1105.0 1422.6,1110.3 1423.4,1107.3 1424.2,1107.8 1424.9,1113.7 1425.7,1107.2 1426.5,1110.0 1427.3,1117.5 1428.1,1108.3 1428.9,1108.0 1429.6,1110.1 1430.4,1118.2 1431.2,1101.7 1432.0,1102.3 1432.8,1102.5 1433.5,1104.6 1434.3,1114.3 1435.1,1105.8 1435.9,1112.3 1436.7,1093.7 1437.5,1109.8 1438.2,1102.5 1439.0,1116.2 1439.8,1113.9 1440.6,1109.9 1441.4,1102.1 1442.1,1103.1 1442.9,1104.6 1443.7,1117.9 1444.5,1099.2 1445.3,1111.9 1446.1,1095.9 1446.8,1094.1 1447.6,1100.5 1448.4,1099.2 1449.2,1113.3 1450.0,1091.5 1450.8,1103.2 1451.5,1097.8 1452.3,1109.4 1453.1,1103.7 1453.9,1110.6 1454.7,1103.6 1455.4,1101.0 1456.2,1098.4 1457.0,1089.1 1457.8,1094.0 1458.6,1093.8 1459.4,1093.1 1460.1,1075.1 1460.9,1092.0 1461.7,1073.4 1462.5,1094.9 1463.3,1080.4 1464.1,1061.3 1464.8,1058.8 1465.6,1026.3 1466.4,1025.4 1467.2,1050.2 1468.0,1040.9 1468.7,1020.4 1469.5,1024.0 1470.3,1024.7 1471.1,1051.7 1471.9,1060.5 1472.7,1058.1 1473.4,1071.1 1474.2,1067.6 1475.0,1048.4 1475.8,1047.7 1476.6,1062.1 1477.4,1043.7 1478.1,1047.0 1478.9,1057.1 1479.7,1068.5 1480.5,1067.1 1481.3,1074.6 1482.0,1084.1 1482.8,1093.6 1483.6,1096.2 1484.4,1095.1 1485.2,1101.9 1486.0,1090.3 1486.7,1094.8 1487.5,1094.5 1488.3,1089.0 1489.1,1092.6 1489.9,1094.1 1490.6,1101.2 1491.4,1105.1 1492.2,1090.1 1493.0,1108.1 1493.8,1107.6 1494.6,1109.1 1495.3,1101.5 1496.1,1099.7 1496.9,1095.1 1497.7,1102.9 1498.5,1112.6 1499.3,1097.7 1500.0,1092.1 1500.8,1097.8 1501.6,1098.0 1502.4,1092.0 1503.2,1087.2 1503.9,1094.8 1504.7,1104.2 1505.5,1097.2 1506.3,1085.5 1507.1,1106.0 1507.9,1086.9 1508.6,1098.0 1509.4,1088.4 1510.2,1091.0 1511.0,1095.1 1511.8,1087.6 1512.6,1097.1 1513.3,1097.7 1514.1,1089.7 1514.9,1084.4 1515.7,1089.6 1516.5,1095.5 1517.2,1079.0 1518.0,1075.9 1518.8,1058.0 1519.6,1073.0 1520.4,1062.4 1521.2,1063.5 1521.9,1067.1 1522.7,1046.2 1523.5,1039.4 1524.3,1058.4 1525.1,1059.5 1525.9,1071.1 1526.6,1053.6 1527.4,1079.3 1528.2,1074.6 1529.0,1092.2 1529.8,1088.6 1530.5,1097.6 1531.3,1109.9 1532.1,1097.4 1532.9,1096.2 1533.7,1114.7 1534.5,1104.0 1535.2,1106.8 1536.0,1111.9 1536.8,1107.2 1537.6,1118.5 1538.4,1105.2 1539.1,1099.8 1539.9,1115.6 1540.7,1108.5 1541.5,1099.5 1542.3,1107.9 1543.1,1112.1 1543.8,1114.7 1544.6,1108.2 1545.4,1110.2 1546.2,1105.7 1547.0,1118.9 1547.8,1103.2 1548.5,1112.2 1549.3,1106.0 1550.1,1114.3 1550.9,1117.7 1551.7,1113.3 1552.4,1115.7 1553.2,1112.1 1554.0,1105.9 1554.8,1103.2 1555.6,1108.4 1556.4,1112.8 1557.1,1112.1 1557.9,1105.5 1558.7,1101.8 1559.5,1110.5 1560.3,1108.9 1561.1,1112.5 1561.8,1105.8 1562.6,1100.3 1563.4,1118.1 1564.2,1102.9 1565.0,1107.2 1565.7,1115.3 1566.5,1098.0 1567.3,1098.9 1568.1,1093.0 1568.9,1104.0 1569.7,1072.7 1570.4,1085.8 1571.2,1086.4 1572.0,1069.6 1572.8,1070.7 1573.6,1069.3 1574.4,1069.2 1575.1,1068.0 1575.9,1069.2 1576.7,1077.5 1577.5,1073.8 1578.3,1070.8 1579.0,1089.4 1579.8,1083.3 1580.6,1082.7 1581.4,1092.7 1582.2,1090.8 1583.0,1110.4 1583.7,1108.7 1584.5,1109.8 1585.3,1099.1 1586.1,1086.9 1586.9,1102.0 1587.6,1105.9 1588.4,1105.8 1589.2,1098.3 1590.0,1100.7 1590.8,1115.1 1591.6,1098.9 1592.3,1106.9 1593.1,1100.6 1593.9,1121.1 1594.7,1118.4 1595.5,1102.1 1596.3,1120.1 1597.0,1103.3 1597.8,1103.4 1598.6,1104.5 1599.4,1102.6 1600.2,1102.8 1600.9,1100.9 1601.7,1107.0 1602.5,1103.4 1603.3,1085.8 1604.1,1092.6 1604.9,1095.9 1605.6,1096.7 1606.4,1105.0 1607.2,1096.0 1608.0,1099.0 1608.8,1087.8 1609.6,1103.1 1610.3,1111.1 1611.1,1098.9 1611.9,1087.5 1612.7,1085.5 1613.5,1086.8 1614.2,1102.9 1615.0,1096.8 1615.8,1103.9 1616.6,1098.1 1617.4,1105.0 1618.2,1112.2 1618.9,1095.5 1619.7,1098.4 1620.5,1102.2 1621.3,1098.7 1622.1,1085.8 1622.8,1101.7 1623.6,1106.1 1624.4,1096.6 1625.2,1116.6 1626.0,1097.9 1626.8,1110.1 1627.5,1110.5 1628.3,1103.2 1629.1,1090.8 1629.9,1109.7 1630.7,1096.2 1631.5,1100.5 1632.2,1114.3 1633.0,1095.5 1633.8,1109.1 1634.6,1113.9 1635.4,1107.9 1636.1,1106.9 1636.9,1095.4 1637.7,1105.7 1638.5,1086.3 1639.3,1096.1 1640.1,1103.2 1640.8,1103.3 1641.6,1093.0 1642.4,1110.6 1643.2,1109.6 1644.0,1099.3 1644.8,1084.2 1645.5,1086.8 1646.3,1086.8 1647.1,1087.5 1647.9,1102.1 1648.7,1085.4 1649.4,1098.1 1650.2,1070.8 1651.0,1077.7 1651.8,1077.1 1652.6,1070.8 1653.4,1070.3 1654.1,1070.2 1654.9,1068.2 1655.7,1077.3 1656.5,1084.8 1657.3,1060.2 1658.1,1061.4 1658.8,1061.5 1659.6,1073.9 1660.4,1066.2 1661.2,1078.0 1662.0,1070.8 1662.7,1082.0 1663.5,1075.9 1664.3,1062.5 1665.1,1072.8 1665.9,1067.5 1666.7,1090.8 1667.4,1091.4 1668.2,1086.9 1669.0,1082.9 1669.8,1091.2 1670.6,1081.7 1671.3,1096.7 1672.1,1081.3 1672.9,1085.9 1673.7,1104.6 1674.5,1091.2 1675.3,1098.8 1676.0,1089.4 1676.8,1102.8 1677.6,1096.5 1678.4,1095.2 1679.2,1115.1 1680.0,1115.3 1680.7,1099.8 1681.5,1102.1 1682.3,1093.4 1683.1,1099.7 1683.9,1111.5 1684.6,1099.1 1685.4,1107.5 1686.2,1103.4 1687.0,1105.4 1687.8,1098.6 1688.6,1112.1 1689.3,1109.5 1690.1,1115.3 1690.9,1083.6 1691.7,1107.5 1692.5,1106.0 1693.3,1107.8 1694.0,1103.1 1694.8,1100.8 1695.6,1091.6 1696.4,1094.4 1697.2,1092.3 1697.9,1099.0 1698.7,1093.7 1699.5,1081.8 1700.3,1091.2 1701.1,1087.2 1701.9,1105.2 1702.6,1083.0 1703.4,1084.0 1704.2,1073.5 1705.0,1100.9 1705.8,1082.3 1706.6,1082.4 1707.3,1079.3 1708.1,1084.8 1708.9,1075.9 1709.7,1070.2 1710.5,1075.6 1711.2,1078.0 1712.0,1076.6 1712.8,1077.8 1713.6,1073.4 1714.4,1063.7 1715.2,1091.7 1715.9,1065.0 1716.7,1091.0 1717.5,1075.8 1718.3,1087.7 1719.1,1078.8 1719.8,1086.0 1720.6,1078.4 1721.4,1086.8 1722.2,1092.1 1723.0,1078.7 1723.8,1070.9 1724.5,1081.0 1725.3,1084.4 1726.1,1095.6 1726.9,1088.6 1727.7,1085.4 1728.5,1095.7 1729.2,1084.1 1730.0,1092.9 1730.8,1090.8 1731.6,1098.5 1732.4,1099.3 1733.1,1094.8 1733.9,1094.4 1734.7,1095.5 1735.5,1106.3 1736.3,1104.8 1737.1,1100.2 1737.8,1114.0 1738.6,1093.7 1739.4,1099.3 1740.2,1101.7 1741.0,1107.3 1741.8,1097.0 1742.5,1104.8 1743.3,1090.0 1744.1,1100.6 1744.9,1113.5 1745.7,1098.4 1746.4,1106.9 1747.2,1106.7 1748.0,1104.5 1748.8,1103.4 1749.6,1100.2 1750.4,1095.8 1751.1,1097.0 1751.9,1104.3 1752.7,1107.5 1753.5,1101.8 1754.3,1090.9 1755.0,1084.4 1755.8,1073.9 1756.6,1096.6 1757.4,1081.7 1758.2,1081.6 1759.0,1080.9 1759.7,1074.5 1760.5,1068.0 1761.3,1078.2 1762.1,1083.1 1762.9,1076.3 1763.7,1073.7 1764.4,1072.3 1765.2,1092.9 1766.0,1099.7 1766.8,1096.0 1767.6,1102.3 1768.3,1090.6 1769.1,1105.2 1769.9,1100.1 1770.7,1110.6 1771.5,1104.5 1772.3,1101.4 1773.0,1092.8 1773.8,1107.6 1774.6,1100.5 1775.4,1114.9 1776.2,1110.4 1777.0,1107.3 1777.7,1104.6 1778.5,1097.5 1779.3,1095.0 1780.1,1109.4 1780.9,1092.9 1781.6,1103.0 1782.4,1079.2 1783.2,1088.2 1784.0,1086.9 1784.8,1086.7 1785.6,1082.5 1786.3,1079.0 1787.1,1081.8 1787.9,1065.9 1788.7,1067.1 1789.5,1060.0 1790.3,1065.4 1791.0,1052.5 1791.8,1069.4 1792.6,1053.8 1793.4,1068.2 1794.2,1065.7 1794.9,1054.2 1795.7,1054.4 1796.5,1069.1 1797.3,1077.1 1798.1,1074.1 1798.9,1069.7 1799.6,1067.2 1800.4,1060.9 1801.2,1051.7 1802.0,1050.4 1802.8,1067.0 1803.5,1058.1 1804.3,1057.5 1805.1,1055.9 1805.9,1073.3 1806.7,1081.7 1807.5,1072.7 1808.2,1070.2 1809.0,1089.7 1809.8,1073.9 1810.6,1078.7 1811.4,1095.5 1812.2,1106.6 1812.9,1101.7 1813.7,1101.6 1814.5,1097.3 1815.3,1112.4 1816.1,1089.5 1816.8,1090.7 1817.6,1108.9 1818.4,1116.1 1819.2,1106.8 1820.0,1103.9 1820.8,1099.1 1821.5,1103.1 1822.3,1108.6 1823.1,1118.0 1823.9,1105.2 1824.7,1103.6 1825.5,1110.1 1826.2,1107.1 1827.0,1107.6 1827.8,1110.2 1828.6,1115.2 1829.4,1107.2 1830.1,1116.8 1830.9,1101.7 1831.7,1114.2 1832.5,1106.8 1833.3,1113.4 1834.1,1107.5 1834.8,1110.7 1835.6,1106.8 1836.4,1113.9 1837.2,1118.4 1838.0,1111.2 1838.8,1111.6 1839.5,1117.8 1840.3,1113.5 1841.1,1118.7 1841.9,1109.3 1842.7,1111.9 1843.4,1109.8 1844.2,1098.4 1845.0,1109.1 1845.8,1108.0 1846.6,1106.6 1847.4,1110.7 1848.1,1113.1 1848.9,1105.3 1849.7,1104.5 1850.5,1119.6 1851.3,1110.8 1852.0,1111.8 1852.8,1113.0 1853.6,1103.4 1854.4,1112.8 1855.2,1105.4 1856.0,1112.8 1856.7,1112.1 1857.5,1106.1 1858.3,1113.8 1859.1,1110.7 1859.9,1115.7 1860.7,1114.5 1861.4,1105.9 1862.2,1106.5 1863.0,1115.7 1863.8,1115.8 1864.6,1097.6 1865.3,1112.6 1866.1,1113.7 1866.9,1105.9 1867.7,1112.6 1868.5,1110.0 1869.3,1102.4 1870.0,1100.9 1870.8,1106.8 1871.6,1096.4 1872.4,1103.6 1873.2,1102.1 1874.0,1097.8 1874.7,1096.3 1875.5,1086.1 1876.3,1083.1 1877.1,1086.9 1877.9,1075.1 1878.6,1071.2 1879.4,1079.4 1880.2,1077.8 1881.0,1072.7 1881.8,1083.1 1882.6,1080.4 1883.3,1082.9 1884.1,1098.0 1884.9,1104.6 1885.7,1107.9 1886.5,1102.7 1887.3,1100.4 1888.0,1097.1 1888.8,1115.3 1889.6,1102.5 1890.4,1102.1 1891.2,1096.0 1891.9,1108.0 1892.7,1109.4 1893.5,1118.2 1894.3,1114.0 1895.1,1116.0 1895.9,1115.5 1896.6,1115.0 1897.4,1118.6 1898.2,1110.4 1899.0,1107.7 1899.8,1105.6 1900.5,1110.6 1901.3,1104.0 1902.1,1104.0 1902.9,1118.7 1903.7,1111.6 1904.5,1117.2 1905.2,1115.7 1906.0,1109.1 1906.8,1110.8 1907.6,1101.8 1908.4,1098.5 1909.2,1107.7 1909.9,1111.2 1910.7,1111.0 1911.5,1110.2"/>
</svg>
</body></html>
